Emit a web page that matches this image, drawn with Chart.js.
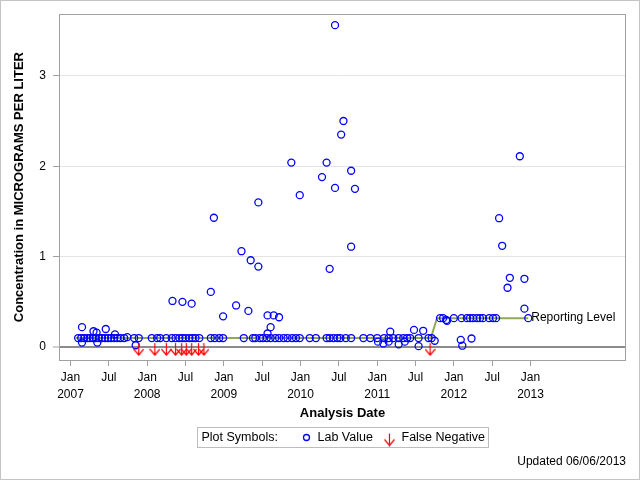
<!DOCTYPE html>
<html>
<head>
<meta charset="utf-8">
<script src="https://cdn.jsdelivr.net/npm/chart.js@4.4.0/dist/chart.umd.min.js"></script>
<style>
  html, body { margin: 0; padding: 0; background: #fff; }
</style>
</head>
<body>
<canvas id="labChart" width="640" height="480"></canvas>
<script>
// dates are decimal years, values in micrograms per liter
const labDates = [
  2007.10, 2007.14, 2007.15, 2007.15, 2007.18, 2007.22, 2007.25, 2007.29, 2007.30, 2007.33,
  2007.34, 2007.35, 2007.37, 2007.41, 2007.45, 2007.46, 2007.49, 2007.53, 2007.57, 2007.58,
  2007.61, 2007.65, 2007.70, 2007.74, 2007.83, 2007.85, 2007.89, 2008.06, 2008.13, 2008.17,
  2008.25, 2008.32, 2008.33, 2008.37, 2008.42, 2008.46, 2008.46, 2008.50, 2008.55, 2008.58,
  2008.59, 2008.63, 2008.68, 2008.83, 2008.83, 2008.87, 2008.88, 2008.94, 2008.99, 2008.99,
  2009.16, 2009.23, 2009.26, 2009.32, 2009.35, 2009.38, 2009.41, 2009.45, 2009.45, 2009.47,
  2009.51, 2009.56, 2009.57, 2009.57, 2009.61, 2009.61, 2009.65, 2009.67, 2009.72, 2009.72,
  2009.78, 2009.83, 2009.88, 2009.89, 2009.94, 2009.99, 2009.99, 2010.12, 2010.20, 2010.28,
  2010.34, 2010.34, 2010.38, 2010.38, 2010.43, 2010.45, 2010.45, 2010.48, 2010.52, 2010.53,
  2010.56, 2010.59, 2010.66, 2010.66, 2010.66, 2010.71, 2010.82, 2010.91, 2011.00, 2011.01,
  2011.08, 2011.09, 2011.15, 2011.15, 2011.17, 2011.21, 2011.28, 2011.28, 2011.34, 2011.36,
  2011.39, 2011.43, 2011.48, 2011.54, 2011.54, 2011.60, 2011.67, 2011.71, 2011.75, 2011.82,
  2011.86, 2011.90, 2011.91, 2012.00, 2012.09, 2012.10, 2012.11, 2012.17, 2012.21, 2012.23,
  2012.25, 2012.30, 2012.34, 2012.38, 2012.46, 2012.51, 2012.55, 2012.59, 2012.63, 2012.70,
  2012.73, 2012.86, 2012.92, 2012.92, 2012.97
];
const labValues = [
  0.10, 0.10, 0.22, 0.05, 0.10, 0.10, 0.10, 0.10, 0.175, 0.10,
  0.16, 0.05, 0.10, 0.10, 0.10, 0.20, 0.10, 0.10, 0.10, 0.14,
  0.10, 0.10, 0.10, 0.11, 0.10, 0.02, 0.10, 0.10, 0.10, 0.10,
  0.10, 0.10, 0.51, 0.10, 0.10, 0.10, 0.50, 0.10, 0.10, 0.48,
  0.10, 0.10, 0.10, 0.10, 0.61, 1.43, 0.10, 0.10, 0.10, 0.34,
  0.46, 1.06, 0.10, 0.40, 0.96, 0.10, 0.10, 0.89, 1.60, 0.10,
  0.10, 0.10, 0.35, 0.15, 0.10, 0.22, 0.35, 0.10, 0.10, 0.33,
  0.10, 0.10, 2.04, 0.10, 0.10, 0.10, 1.68, 0.10, 0.10, 1.88,
  0.10, 2.04, 0.10, 0.865, 0.10, 1.76, 3.56, 0.10, 0.10, 2.35,
  2.50, 0.10, 0.10, 1.95, 1.11, 1.75, 0.10, 0.10, 0.10, 0.06,
  0.04, 0.10, 0.10, 0.06, 0.17, 0.10, 0.10, 0.03, 0.10, 0.06,
  0.10, 0.10, 0.19, 0.10, 0.01, 0.18, 0.10, 0.10, 0.07, 0.32,
  0.32, 0.30, 0.29, 0.32, 0.08, 0.32, 0.015, 0.32, 0.32, 0.095,
  0.32, 0.32, 0.32, 0.32, 0.32, 0.32, 0.32, 1.425, 1.12, 0.656,
  0.766, 2.11, 0.755, 0.425, 0.32
];

const fnDates = [2007.89, 2008.10, 2008.25, 2008.37, 2008.45, 2008.51, 2008.58, 2008.67, 2008.74, 2011.69];
const fnValues = [0, 0, 0, 0, 0, 0, 0, 0, 0, 0];

const reportDates = [2007.07, 2011.70, 2011.78, 2012.97];
const reportValues = [0.10, 0.10, 0.32, 0.32];

const xTicks = [2007, 2007.5, 2008, 2008.5, 2009, 2009.5, 2010, 2010.5, 2011, 2011.5, 2012, 2012.5, 2013];
const yTicks = [0, 1, 2, 3];

const labColor = '#0000FF';
const fnColor = '#FF0000';
const reportColor = '#8FAA55';
const frameColor = '#A0A0A0';
const fontFamily = '"Liberation Sans", Arial, sans-serif';

function toPoints(xs, ys) {
    let pts = [];
    for (let i = 0; i < xs.length; i++) {
        pts.push({x: xs[i], y: ys[i]});
    }
    return pts;
}

// red down arrow used as marker for false negatives
function makeArrow() {
    const c = document.createElement('canvas');
    c.width = 11;
    c.height = 18;
    const g = c.getContext('2d');
    g.strokeStyle = fnColor;
    g.lineWidth = 1.2;
    g.beginPath();
    g.moveTo(5.5, 5);
    g.lineTo(5.5, 17);
    g.moveTo(0.5, 11);
    g.lineTo(5.5, 17);
    g.lineTo(10.5, 11);
    g.stroke();
    return c;
}
const arrowImg = makeArrow();

const decorPlugin = {
    id: 'decor',
    beforeDraw(chart) {
        const ctx = chart.ctx;
        ctx.save();
        ctx.fillStyle = '#fff';
        ctx.fillRect(0, 0, chart.width, chart.height);
        ctx.restore();
    },
    afterDraw(chart) {
        const ctx = chart.ctx;
        const a = chart.chartArea;
        ctx.save();

        // plot frame and outer border
        ctx.strokeStyle = frameColor;
        ctx.lineWidth = 1;
        ctx.strokeRect(Math.round(a.left) + 0.5, Math.round(a.top) + 0.5,
            Math.round(a.right - a.left) - 1, Math.round(a.bottom - a.top));
        ctx.strokeStyle = '#C4C4C4';
        ctx.strokeRect(0.5, 0.5, chart.width - 1, chart.height - 1);

        ctx.font = '12px ' + fontFamily;
        ctx.fillStyle = '#000';
        ctx.textBaseline = 'middle';
        ctx.textAlign = 'left';

        // label at the end of the reporting level line
        const meta = chart.getDatasetMeta(2);
        const last = meta.data[meta.data.length - 1];
        ctx.fillText('Reporting Level', last.x + 3, last.y);

        // legend box under the axis title
        const boxW = 291, boxH = 20;
        const bx = Math.round((a.left + a.right) / 2 - boxW / 2) + 0.5;
        const by = 427.5;
        const cy = by + boxH / 2;
        ctx.strokeStyle = '#BDBDBD';
        ctx.strokeRect(bx, by, boxW, boxH);
        ctx.font = '12.5px ' + fontFamily;
        ctx.fillText('Plot Symbols:', bx + 4, cy);
        ctx.strokeStyle = labColor;
        ctx.lineWidth = 1.3;
        ctx.beginPath();
        ctx.arc(bx + 109, cy, 3, 0, Math.PI * 2);
        ctx.stroke();
        ctx.fillText('Lab Value', bx + 120, cy);
        ctx.drawImage(arrowImg, bx + 192 - 5.5, cy - 9);
        ctx.fillText('False Negative', bx + 204, cy);

        // footnote
        ctx.font = '12px ' + fontFamily;
        ctx.textAlign = 'right';
        ctx.fillText('Updated 06/06/2013', a.right, 462);
        ctx.restore();
    }
};

const ctx = document.getElementById('labChart').getContext('2d');
const labChart = new Chart(ctx, {
    type: 'scatter',
    plugins: [decorPlugin],
    data: {
        datasets: [
            {
                label: 'Lab Value',
                data: toPoints(labDates, labValues),
                pointStyle: 'circle',
                pointRadius: 3.5,
                borderWidth: 1.3,
                borderColor: labColor,
                backgroundColor: 'rgba(0,0,0,0)',
                order: 1
            },
            {
                label: 'False Negative',
                data: toPoints(fnDates, fnValues),
                pointStyle: arrowImg,
                order: 0
            },
            {
                type: 'line',
                label: 'Reporting Level',
                data: toPoints(reportDates, reportValues),
                showLine: true,
                borderColor: reportColor,
                borderWidth: 2,
                pointRadius: 0,
                tension: 0,
                fill: false,
                order: 5
            }
        ]
    },
    options: {
        responsive: false,
        animation: false,
        devicePixelRatio: 1,
        clip: false,
        layout: {
            padding: {left: 0, top: 12, right: 14, bottom: 59}
        },
        plugins: {
            legend: {display: false},
            tooltip: {enabled: false}
        },
        scales: {
            x: {
                type: 'linear',
                position: 'bottom',
                min: 2006.85,
                max: 2014.245,
                afterBuildTicks: (scale) => {
                    scale.ticks = xTicks.map(v => ({value: v}));
                },
                afterFit: (scale) => {
                    scale.height = 61;
                },
                border: {display: false},
                grid: {
                    display: true,
                    drawOnChartArea: false,
                    drawTicks: true,
                    tickLength: 6,
                    tickColor: frameColor,
                    tickWidth: 1
                },
                ticks: {
                    autoSkip: false,
                    maxRotation: 0,
                    padding: 3,
                    color: '#000',
                    font: {family: fontFamily, size: 12, lineHeight: 1.4},
                    callback: (value) => Number.isInteger(value) ? ['Jan', String(value)] : 'Jul'
                },
                title: {
                    display: true,
                    text: 'Analysis Date',
                    color: '#000',
                    padding: {top: 4, bottom: 0},
                    font: {family: fontFamily, size: 13, weight: 'bold'}
                }
            },
            y: {
                type: 'linear',
                min: -0.143,
                max: 3.681,
                afterBuildTicks: (scale) => {
                    scale.ticks = yTicks.map(v => ({value: v}));
                },
                afterFit: (scale) => {
                    scale.width = 59;
                },
                border: {display: false},
                grid: {
                    color: (c) => (c.tick && c.tick.value === 0) ? '#8C8C8C' : '#E4E4E4',
                    lineWidth: (c) => (c.tick && c.tick.value === 0) ? 2 : 1,
                    tickLength: 6,
                    tickColor: frameColor,
                    tickWidth: 1
                },
                ticks: {
                    padding: 7,
                    color: '#000',
                    font: {family: fontFamily, size: 12}
                },
                title: {
                    display: true,
                    text: 'Concentration in MICROGRAMS PER LITER',
                    color: '#000',
                    padding: {top: 12, bottom: 0},
                    font: {family: fontFamily, size: 13, weight: 'bold'}
                }
            }
        }
    }
});
</script>
</body>
</html>
